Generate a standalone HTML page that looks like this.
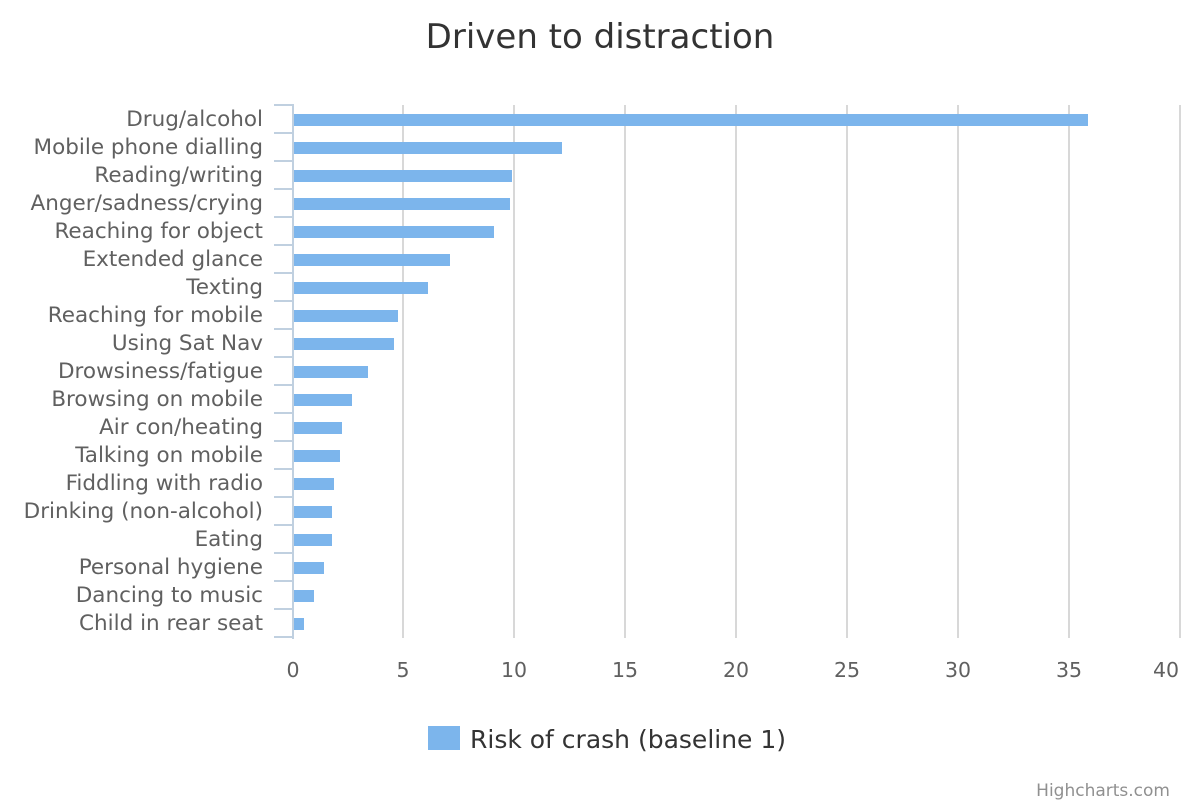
<!DOCTYPE html>
<html><head><meta charset="utf-8"><style>
html,body{margin:0;padding:0;background:#fff;}
svg{display:block;font-family:"DejaVu Sans","Liberation Sans",sans-serif;}
</style></head><body>
<svg width="1200" height="800" viewBox="0 0 1200 800" xmlns="http://www.w3.org/2000/svg">
<rect width="1200" height="800" fill="#fff"/>
<text x="600" y="48" text-anchor="middle" font-size="34" fill="#333">Driven to distraction</text>
<g stroke="#d8d8d8" stroke-width="2">
<line x1="403" y1="105" x2="403" y2="638"/>
<line x1="514" y1="105" x2="514" y2="638"/>
<line x1="625" y1="105" x2="625" y2="638"/>
<line x1="736" y1="105" x2="736" y2="638"/>
<line x1="847" y1="105" x2="847" y2="638"/>
<line x1="958" y1="105" x2="958" y2="638"/>
<line x1="1069" y1="105" x2="1069" y2="638"/>
<line x1="1180" y1="105" x2="1180" y2="638"/>
</g>
<g stroke="#c0d0e0" stroke-width="2">
<line x1="293" y1="104" x2="293" y2="639"/>
<line x1="274" y1="105" x2="293" y2="105"/><line x1="274" y1="133" x2="293" y2="133"/><line x1="274" y1="161" x2="293" y2="161"/><line x1="274" y1="189" x2="293" y2="189"/><line x1="274" y1="217" x2="293" y2="217"/><line x1="274" y1="245" x2="293" y2="245"/><line x1="274" y1="273" x2="293" y2="273"/><line x1="274" y1="301" x2="293" y2="301"/><line x1="274" y1="329" x2="293" y2="329"/><line x1="274" y1="357" x2="293" y2="357"/><line x1="274" y1="385" x2="293" y2="385"/><line x1="274" y1="413" x2="293" y2="413"/><line x1="274" y1="441" x2="293" y2="441"/><line x1="274" y1="469" x2="293" y2="469"/><line x1="274" y1="497" x2="293" y2="497"/><line x1="274" y1="525" x2="293" y2="525"/><line x1="274" y1="553" x2="293" y2="553"/><line x1="274" y1="581" x2="293" y2="581"/><line x1="274" y1="609" x2="293" y2="609"/><line x1="274" y1="637" x2="293" y2="637"/>
</g>
<g fill="#7cb5ec">
<rect x="294" y="114" width="794" height="12"/>
<rect x="294" y="142" width="268" height="12"/>
<rect x="294" y="170" width="218" height="12"/>
<rect x="294" y="198" width="216" height="12"/>
<rect x="294" y="226" width="200" height="12"/>
<rect x="294" y="254" width="156" height="12"/>
<rect x="294" y="282" width="134" height="12"/>
<rect x="294" y="310" width="104" height="12"/>
<rect x="294" y="338" width="100" height="12"/>
<rect x="294" y="366" width="74" height="12"/>
<rect x="294" y="394" width="58" height="12"/>
<rect x="294" y="422" width="48" height="12"/>
<rect x="294" y="450" width="46" height="12"/>
<rect x="294" y="478" width="40" height="12"/>
<rect x="294" y="506" width="38" height="12"/>
<rect x="294" y="534" width="38" height="12"/>
<rect x="294" y="562" width="30" height="12"/>
<rect x="294" y="590" width="20" height="12"/>
<rect x="294" y="618" width="10" height="12"/>
</g>
<g font-size="21.5" fill="#606060" text-anchor="end">
<text x="263" y="126">Drug/alcohol</text>
<text x="263" y="154">Mobile phone dialling</text>
<text x="263" y="182">Reading/writing</text>
<text x="263" y="210">Anger/sadness/crying</text>
<text x="263" y="238">Reaching for object</text>
<text x="263" y="266">Extended glance</text>
<text x="263" y="294">Texting</text>
<text x="263" y="322">Reaching for mobile</text>
<text x="263" y="350">Using Sat Nav</text>
<text x="263" y="378">Drowsiness/fatigue</text>
<text x="263" y="406">Browsing on mobile</text>
<text x="263" y="434">Air con/heating</text>
<text x="263" y="462">Talking on mobile</text>
<text x="263" y="490">Fiddling with radio</text>
<text x="263" y="518">Drinking (non-alcohol)</text>
<text x="263" y="546">Eating</text>
<text x="263" y="574">Personal hygiene</text>
<text x="263" y="602">Dancing to music</text>
<text x="263" y="630">Child in rear seat</text>
</g>
<g font-size="20.5" fill="#606060" text-anchor="middle">
<text x="293" y="677">0</text><text x="403" y="677">5</text><text x="514" y="677">10</text><text x="625" y="677">15</text><text x="736" y="677">20</text><text x="847" y="677">25</text><text x="958" y="677">30</text><text x="1069" y="677">35</text><text x="1166" y="677">40</text>
</g>
<rect x="428" y="726" width="32" height="24" fill="#7cb5ec"/>
<text x="470" y="748" font-size="25" fill="#333">Risk of crash (baseline 1)</text>
<text x="1170" y="796" font-size="17" fill="#909090" text-anchor="end">Highcharts.com</text>
</svg>
</body></html>
